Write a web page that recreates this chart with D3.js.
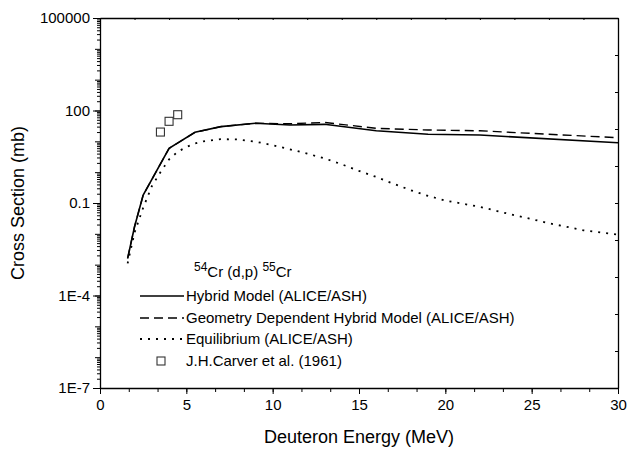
<!DOCTYPE html>
<html>
<head>
<meta charset="utf-8">
<script src="https://cdn.jsdelivr.net/npm/d3@7"></script>
<style>
  body { margin: 0; background: #fff; }
  svg { font-family: "Liberation Sans", Arial, Helvetica, sans-serif; }
  .axis path, .axis line { stroke: #000; }
  .axis text { fill: #000; }
</style>
</head>
<body>
<svg id="chart" width="628" height="450"></svg>
<script>
// Hybrid model (ALICE/ASH)
var hybridE   = [1.6, 2.0, 2.5, 4.0, 5.5, 7.0, 9.0, 11.0, 13.0, 16.0, 19.0, 22.0, 30.0]
var hybridXS  = [0.0016, 0.017, 0.18, 5.9, 19.6, 30, 38.5, 34, 35.6, 22, 16.9, 16, 9.0]

// Geometry dependent hybrid model
var gdhE      = [1.6, 2.0, 2.5, 4.0, 5.5, 7.0, 9.0, 11.0, 13.0, 16.0, 19.0, 22.0, 30.0]
var gdhXS     = [0.0016, 0.017, 0.18, 5.9, 19.6, 30, 38.5, 37, 41, 26.4, 23.3, 22, 13.1]

// Equilibrium
var eqE  = [1.6, 2.0, 2.5, 3.0, 3.5, 4.0, 4.5, 5.0, 5.5, 6.0, 7.0, 8.0, 9.0, 10, 11, 12, 13, 14, 15,
            16, 17, 18, 19, 20, 21, 22, 23, 24, 25, 26, 27, 28, 29, 30]
var eqXS = [0.0011, 0.011, 0.07, 0.35, 1.0, 2.6, 4.6, 6.5, 8.5, 10, 11.8, 11.5, 9.8, 7.5, 5.5, 4.0, 2.8, 1.8, 1.1,
            0.7, 0.42, 0.26, 0.17, 0.12, 0.095, 0.075, 0.055, 0.04, 0.03, 0.022, 0.017, 0.013, 0.011, 0.0095]

// J.H.Carver et al. (1961)
var expE  = [3.5, 4.0, 4.5]
var expXS = [20, 44.6, 73]

var yTickValues = [1e5, 100, 0.1, 1e-4, 1e-7]
var yTickLabels = ["100000", "100", "0.1", "1E-4", "1E-7"]
var xTickValues = [0, 5, 10, 15, 20, 25, 30]

var legendLabels = ["Hybrid Model (ALICE/ASH)",
                    "Geometry Dependent Hybrid Model (ALICE/ASH)",
                    "Equilibrium (ALICE/ASH)",
                    "J.H.Carver et al. (1961)"]

var svg = d3.select("#chart"),
    margin = {top: 18, right: 10, bottom: 62, left: 100},
    width  = +svg.attr("width")  - margin.left - margin.right,
    height = +svg.attr("height") - margin.top  - margin.bottom;

var x = d3.scaleLinear().domain([0, 30]).range([0, width]);
var y = d3.scaleLog().domain([1e-7, 1e5]).range([height, 0]);

var g = svg.append("g")
  .attr("transform", "translate(" + margin.left + "," + margin.top + ")");

// minor ticks: log 2..9 in every decade, x every 5/3
var yMinor = [], yDecades = []
for (var p = -7; p < 5; p++) {
  for (var k = 2; k <= 9; k++) yMinor.push(k * Math.pow(10, p));
}
for (var p = -7; p <= 5; p++) yDecades.push(Math.pow(10, p));
var xMinor = d3.range(0, 19).map(function(i){ return i * 5 / 3; });

g.append("g").attr("class", "axis")
  .call(d3.axisLeft(y).tickValues(yMinor).tickSize(3).tickFormat(""))
  .select(".domain").remove();
g.append("g").attr("class", "axis")
  .call(d3.axisLeft(y).tickValues(yDecades).tickSize(5).tickFormat(""))
  .select(".domain").remove();
var yAxis = g.append("g").attr("class", "axis")
  .call(d3.axisLeft(y).tickValues(yTickValues).tickSize(7).tickSizeOuter(0).tickPadding(3)
        .tickFormat(function(d, i){ return yTickLabels[i]; }));
yAxis.selectAll("text").style("font-size", "15px");

g.append("g").attr("class", "axis")
  .attr("transform", "translate(0," + height + ")")
  .call(d3.axisBottom(x).tickValues(xMinor).tickSize(4).tickFormat(""))
  .select(".domain").remove();
var xAxis = g.append("g").attr("class", "axis")
  .attr("transform", "translate(0," + height + ")")
  .call(d3.axisBottom(x).tickValues(xTickValues).tickSize(6).tickSizeOuter(0).tickPadding(5));
xAxis.selectAll("text").style("font-size", "15px");

// top and right frame with small inward ticks
g.append("g").attr("class", "axis")
  .call(d3.axisTop(x).ticks(10).tickSize(-2).tickSizeOuter(0).tickFormat(""));
var yRight = d3.scaleLinear().domain([0, 10]).range([height, 0]);
g.append("g").attr("class", "axis")
  .attr("transform", "translate(" + width + ",0)")
  .call(d3.axisRight(yRight).ticks(10).tickSize(-3).tickSizeOuter(0).tickFormat(""));

svg.selectAll(".axis .domain").attr("stroke-width", 1.3);

// axis titles
svg.append("text")
  .attr("x", margin.left + width / 2).attr("y", 443)
  .attr("text-anchor", "middle")
  .style("font-size", "18px")
  .text("Deuteron Energy (MeV)");
svg.append("text")
  .attr("transform", "translate(24," + (margin.top + height / 2) + ") rotate(-90)")
  .attr("text-anchor", "middle")
  .style("font-size", "18px")
  .text("Cross Section (mb)");

var line = d3.line()
  .x(function(d) { return x(d[0]); })
  .y(function(d) { return y(d[1]); });

var styles = [
  {dash: null,  w: 1.6},
  {dash: "9,5", w: 1.4},
  {dash: "2,6", w: 1.8}
];

g.append("path")
  .datum(d3.zip(gdhE, gdhXS))
  .attr("fill", "none").attr("stroke", "#000")
  .attr("stroke-width", styles[1].w).attr("stroke-dasharray", styles[1].dash)
  .attr("d", line);
g.append("path")
  .datum(d3.zip(hybridE, hybridXS))
  .attr("fill", "none").attr("stroke", "#000")
  .attr("stroke-width", styles[0].w)
  .attr("d", line);
g.append("path")
  .datum(d3.zip(eqE, eqXS))
  .attr("fill", "none").attr("stroke", "#000")
  .attr("stroke-width", styles[2].w).attr("stroke-dasharray", styles[2].dash)
  .attr("d", line);

g.selectAll(".pt")
  .data(d3.zip(expE, expXS))
  .enter().append("rect")
    .attr("class", "pt")
    .attr("x", function(d) { return x(d[0]) - 4; })
    .attr("y", function(d) { return y(d[1]) - 4; })
    .attr("width", 8).attr("height", 8)
    .attr("fill", "none").attr("stroke", "#333").attr("stroke-width", 1.1);

// legend
var legend = svg.append("g").attr("transform", "translate(140,0)");
var title = legend.append("text").attr("x", 54).attr("y", 277).style("font-size", "15px");
title.append("tspan").attr("dy", "-6").style("font-size", "12px").text("54");
title.append("tspan").attr("dy", "6").text("Cr (d,p) ");
title.append("tspan").attr("dy", "-6").style("font-size", "12px").text("55");
title.append("tspan").attr("dy", "6").text("Cr");

var rowY = [296, 318, 339, 361];
styles.forEach(function(s, i){
  legend.append("line")
    .attr("x1", 0).attr("x2", 44).attr("y1", rowY[i]).attr("y2", rowY[i])
    .attr("stroke", "#000").attr("stroke-width", s.w)
    .attr("stroke-dasharray", s.dash);
});
legend.append("rect")
  .attr("x", 17).attr("y", rowY[3] - 4).attr("width", 8).attr("height", 8)
  .attr("fill", "none").attr("stroke", "#333").attr("stroke-width", 1.1);
legend.selectAll(".lbl")
  .data(legendLabels)
  .enter().append("text")
    .attr("class", "lbl")
    .attr("x", 46)
    .attr("y", function(d, i) { return rowY[i] + 5; })
    .style("font-size", "15px")
    .text(function(d) { return d; });
</script>
</body>
</html>
